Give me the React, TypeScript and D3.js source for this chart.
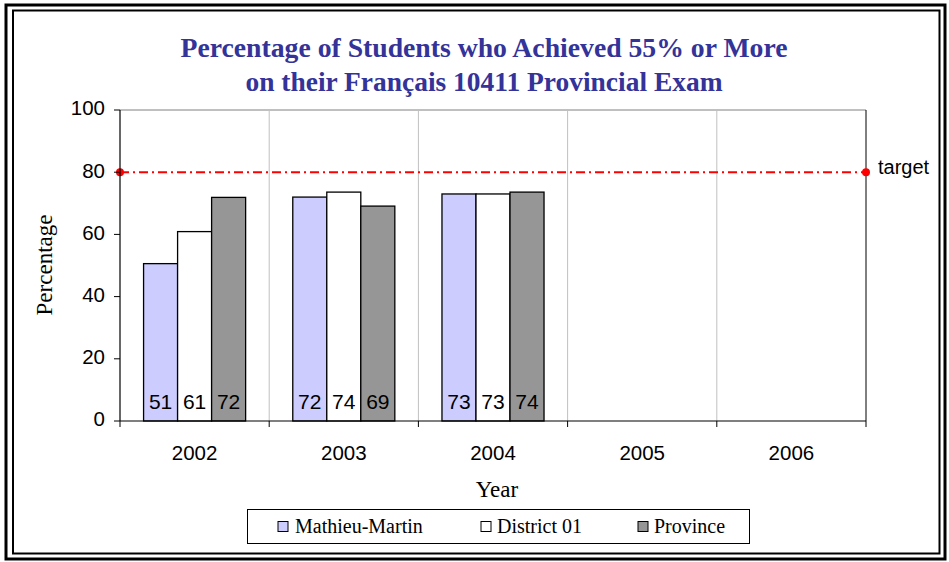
import { useEffect } from 'react';
import * as d3 from 'd3';

// ---------------------------------------------------------------------------
// Data
// ---------------------------------------------------------------------------

const YEARS = ['2002', '2003', '2004', '2005', '2006'];
const SERIES = ['Mathieu-Martin', 'District 01', 'Province'];
const MATHIEU_MARTIN = [50.6, 72.0, 73.0];
const DISTRICT_01 = [60.9, 73.6, 73.0];
const PROVINCE = [71.9, 69.1, 73.6];
const TARGET = 80;
const Y_TICKS = [0, 20, 40, 60, 80, 100];

const VALUES = [MATHIEU_MARTIN, DISTRICT_01, PROVINCE];

// ---------------------------------------------------------------------------
// Colors
// ---------------------------------------------------------------------------

const SERIES_COLORS = ['#CCCCFF', '#FFFFFF', '#969696'];
const TITLE_COLOR = '#333399';
const GRID_COLOR = '#C0C0C0';
const TARGET_COLOR = '#FF0000';

const W = 949;
const H = 562;
const margin = { top: 110, right: 83, bottom: 141, left: 120 };

export default function App() {
  useEffect(() => {
    document.body.style.margin = '0';
  }, []);

  const x = d3.scaleBand<string>()
    .domain(YEARS)
    .range([margin.left, W - margin.right]);

  const y = d3.scaleLinear()
    .domain([0, 100])
    .range([H - margin.bottom, margin.top]);

  const gap = x.bandwidth() * 0.158;
  const inner = d3.scaleBand<string>()
    .domain(SERIES)
    .range([gap, x.bandwidth() - gap]);

  const x0 = margin.left;
  const x1 = W - margin.right;
  const y0 = y(0);
  const yTop = y(100);

  const serif = '"Liberation Serif", "Times New Roman", serif';
  const sans = '"Liberation Sans", Arial, sans-serif';

  const legendItems = [
    { name: SERIES[0], sx: 278, tx: 295 },
    { name: SERIES[1], sx: 481, tx: 497 },
    { name: SERIES[2], sx: 638, tx: 654 },
  ];

  return (
    <svg width={W} height={H} style={{ display: 'block', background: '#fff' }}>
      {/* frame */}
      <rect x={6} y={5} width={939} height={554} fill="none" stroke="#000" strokeWidth={3} />
      <rect x={13} y={10.5} width={926.5} height={543} fill="none" stroke="#000" strokeWidth={2} />

      {/* title */}
      <text x={484} y={57} textAnchor="middle" fill={TITLE_COLOR} fontFamily={serif}
        fontWeight="bold" fontSize={27} textLength={607} lengthAdjust="spacingAndGlyphs">
        Percentage of Students who Achieved 55% or More
      </text>
      <text x={484} y={91} textAnchor="middle" fill={TITLE_COLOR} fontFamily={serif}
        fontWeight="bold" fontSize={27} textLength={477} lengthAdjust="spacingAndGlyphs">
        on their Français 10411 Provincial Exam
      </text>

      {/* plot area border + vertical gridlines */}
      <line x1={x0} x2={x1} y1={yTop} y2={yTop} stroke="#808080" strokeWidth={1} />
      {YEARS.slice(1).map((yr) => (
        <line key={yr} x1={x(yr)!} x2={x(yr)!} y1={yTop} y2={y0} stroke={GRID_COLOR} strokeWidth={1} />
      ))}
      <line x1={x1} x2={x1} y1={yTop} y2={y0} stroke="#000" strokeWidth={1} />

      {/* bars */}
      {SERIES.map((s, si) =>
        VALUES[si].map((v, i) => {
          const bx = x(YEARS[i])! + inner(s)!;
          return (
            <g key={`${s}-${i}`}>
              <rect x={bx} y={y(v)} width={inner.bandwidth()} height={y0 - y(v)}
                fill={SERIES_COLORS[si]} stroke="#000" strokeWidth={1.3} />
              <text x={bx + inner.bandwidth() / 2} y={y0 - 12} textAnchor="middle"
                fontFamily={sans} fontSize={21} fill="#000">
                {Math.round(v)}
              </text>
            </g>
          );
        })
      )}

      {/* target line */}
      <line x1={x0} x2={x1} y1={y(TARGET)} y2={y(TARGET)} stroke={TARGET_COLOR}
        strokeWidth={2} strokeDasharray="9,4,2,4" />
      <circle cx={x0} cy={y(TARGET)} r={4} fill={TARGET_COLOR} />
      <circle cx={x1} cy={y(TARGET)} r={4} fill={TARGET_COLOR} />
      <text x={878} y={y(TARGET) - 3} fontFamily={sans} fontSize={20} fill="#000"
        dominantBaseline="middle">target</text>

      {/* y axis */}
      <line x1={x0} x2={x0} y1={yTop} y2={y0} stroke="#000" strokeWidth={1.2} />
      {Y_TICKS.map((t) => (
        <g key={t}>
          <line x1={x0 - 6} x2={x0} y1={y(t)} y2={y(t)} stroke="#000" strokeWidth={1} />
          <text x={x0 - 15} y={y(t)} textAnchor="end" dominantBaseline="middle"
            fontFamily={sans} fontSize={20.5} fill="#000">{t}</text>
        </g>
      ))}

      {/* x axis */}
      <line x1={x0} x2={x1} y1={y0} y2={y0} stroke="#000" strokeWidth={1.2} />
      {YEARS.map((yr) => (
        <g key={yr}>
          <line x1={x(yr)!} x2={x(yr)!} y1={y0} y2={y0 + 6} stroke="#000" strokeWidth={1} />
          <text x={x(yr)! + x.bandwidth() / 2} y={y0 + 39} textAnchor="middle"
            fontFamily={sans} fontSize={20.5} fill="#000">{yr}</text>
        </g>
      ))}
      <line x1={x1} x2={x1} y1={y0} y2={y0 + 6} stroke="#000" strokeWidth={1} />

      {/* axis titles */}
      <text x={497} y={497} textAnchor="middle" fontFamily={serif} fontSize={23} fill="#000">Year</text>
      <text transform={`translate(52,265) rotate(-90)`} textAnchor="middle" fontFamily={serif}
        fontSize={23} fill="#000">Percentage</text>

      {/* legend */}
      <rect x={247.5} y={509.5} width={502} height={34} fill="#fff" stroke="#000" strokeWidth={1} />
      {legendItems.map((it, i) => (
        <g key={it.name}>
          <rect x={it.sx} y={521.5} width={10} height={10} fill={SERIES_COLORS[i]} stroke="#000" strokeWidth={1} />
          <text x={it.tx} y={533} fontFamily={serif} fontSize={20} fill="#000">{it.name}</text>
        </g>
      ))}
    </svg>
  );
}
